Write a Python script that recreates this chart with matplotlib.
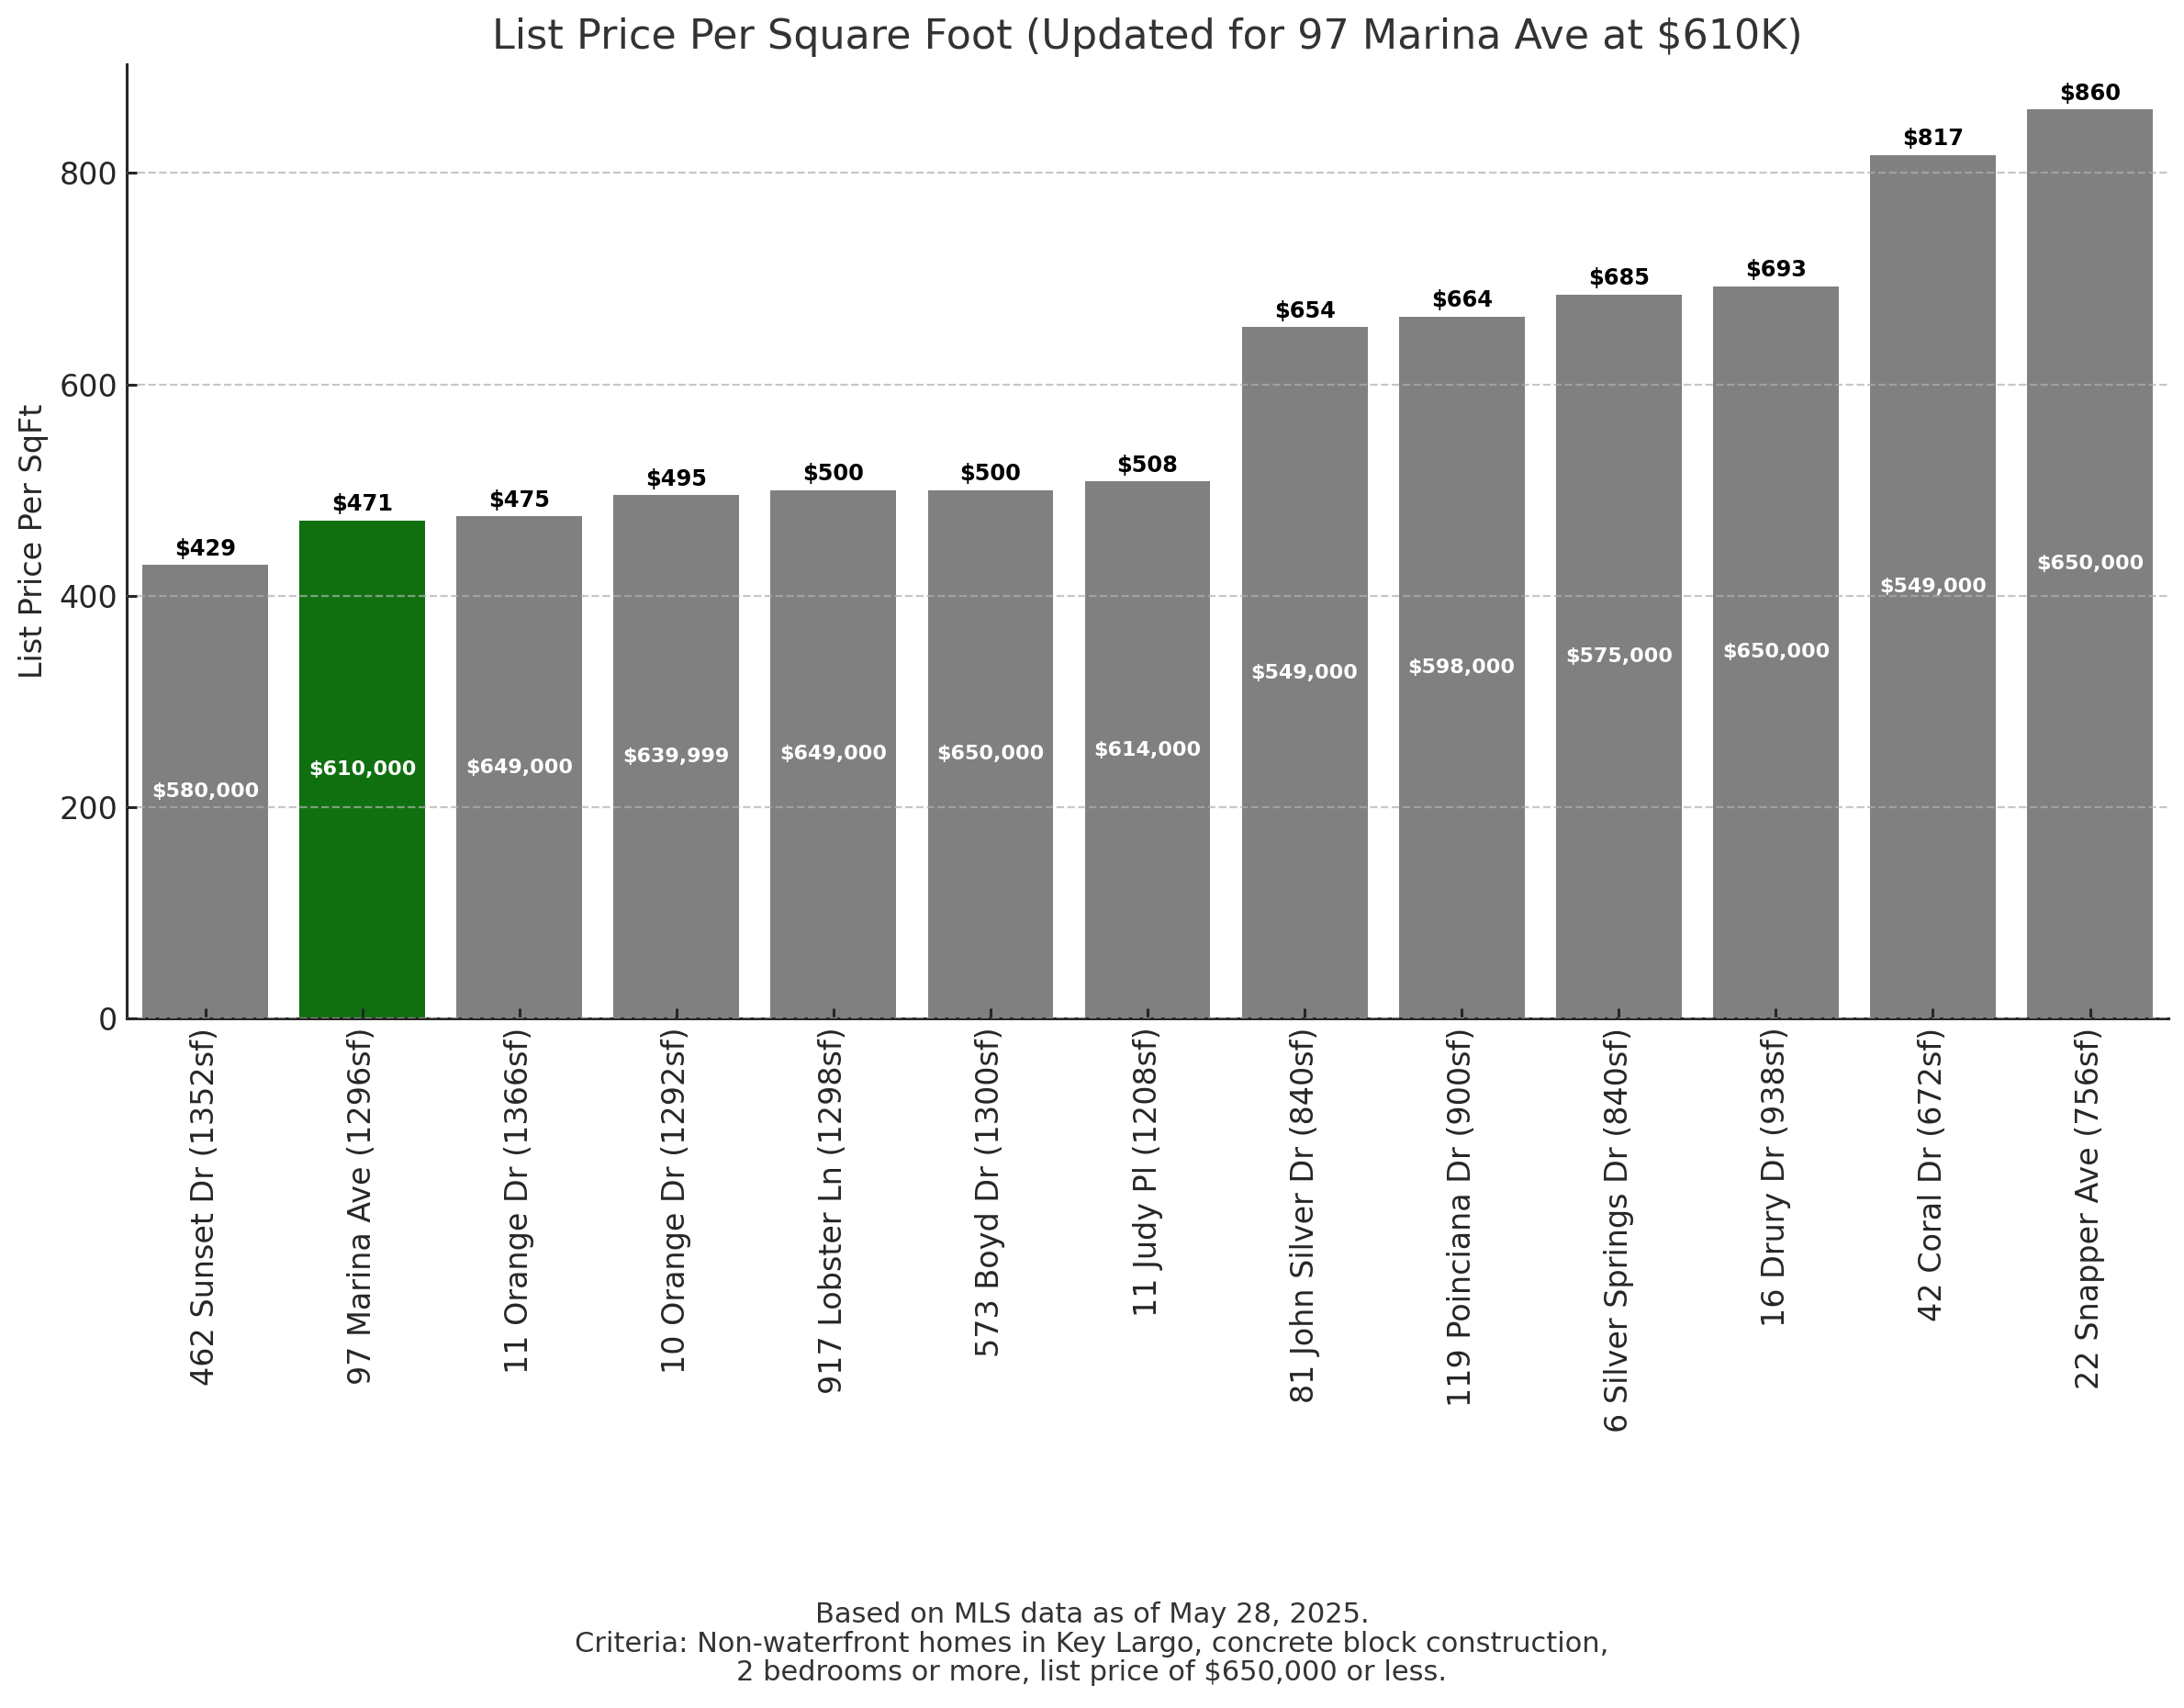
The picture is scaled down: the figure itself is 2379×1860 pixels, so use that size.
import matplotlib
matplotlib.use("Agg")
import matplotlib.pyplot as plt

# listings, sorted by price per square foot
addresses = ["462 Sunset Dr", "97 Marina Ave", "11 Orange Dr", "10 Orange Dr",
             "917 Lobster Ln", "573 Boyd Dr", "11 Judy Pl", "81 John Silver Dr",
             "119 Poinciana Dr", "6 Silver Springs Dr", "16 Drury Dr",
             "42 Coral Dr", "22 Snapper Ave"]
sqft = [1352, 1296, 1366, 1292, 1298, 1300, 1208, 840, 900, 840, 938, 672, 756]
list_prices = [580000, 610000, 649000, 639999, 649000, 650000, 614000,
               549000, 598000, 575000, 650000, 549000, 650000]
price_per_sqft = [429, 471, 475, 495, 500, 500, 508, 654, 664, 685, 693, 817, 860]
highlight = "97 Marina Ave"

labels = [f"{a} ({s}sf)" for a, s in zip(addresses, sqft)]
colors = ["#107010" if a == highlight else "#808080" for a in addresses]

plt.rcParams["font.family"] = ["DejaVu Sans"]

fig = plt.figure(figsize=(11.895, 9.3), dpi=200)
ax = fig.add_axes([0.0580, 0.4038, 0.9349, 0.5586])

x = range(len(labels))
bars = ax.bar(x, price_per_sqft, width=0.8, color=colors, zorder=1)

# value labels: $/sqft on top, list price in the middle of the bar
for i, (v, p) in enumerate(zip(price_per_sqft, list_prices)):
    ax.text(i, v + 5, f"${v}", ha="center", va="bottom",
            fontsize=8.7, fontweight="bold", color="black")
    ax.text(i, v / 2, f"${p:,}", ha="center", va="center",
            fontsize=8, fontweight="bold", color="white")

ax.set_xlim(-0.5, len(labels) - 0.5)
ax.set_ylim(0, max(price_per_sqft) * 1.05)
ax.set_xticks(list(x))
ax.set_xticklabels(labels, rotation=90, fontsize=12, color="#262626")
ax.set_yticks([0, 200, 400, 600, 800])
ax.tick_params(axis="y", labelsize=12, labelcolor="#262626")
ax.tick_params(direction="in", length=4, width=1.1, color="#262626")

ax.yaxis.grid(True, linestyle="--", color="#b0b0b0", alpha=0.7, linewidth=0.8)
ax.set_axisbelow(False)

for side in ["top", "right"]:
    ax.spines[side].set_visible(False)
for side in ["left", "bottom"]:
    ax.spines[side].set_color("#262626")
    ax.spines[side].set_linewidth(1.1)

ax.set_ylabel("List Price Per SqFt", fontsize=12, color="#262626")
ax.set_title("List Price Per Square Foot (Updated for 97 Marina Ave at $610K)",
             fontsize=16, color="#333333")

fig.text(0.5, 0.0376,
         "Based on MLS data as of May 28, 2025.\n"
         "Criteria: Non-waterfront homes in Key Largo, concrete block construction,\n"
         "2 bedrooms or more, list price of $650,000 or less.",
         ha="center", va="center", fontsize=11, color="#333333",
         multialignment="center", linespacing=1.12)

fig.savefig("out.png", dpi=200)
